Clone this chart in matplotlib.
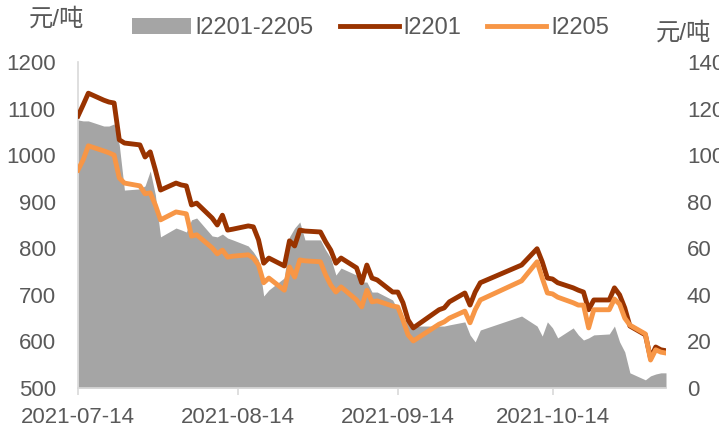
import matplotlib
matplotlib.use("Agg")
import matplotlib.pyplot as plt
import matplotlib.dates as mdates
import numpy as np
import pandas as pd

plt.rcParams['font.family'] = ['Liberation Sans', 'Noto Sans CJK SC', 'DejaVu Sans']

# trading days shown in the chart
dates = ['2021-07-14', '2021-07-15', '2021-07-16', '2021-07-19', '2021-07-20', '2021-07-21',
         '2021-07-22', '2021-07-23', '2021-07-26', '2021-07-27', '2021-07-28', '2021-07-29',
         '2021-07-30', '2021-08-02', '2021-08-03', '2021-08-04', '2021-08-05', '2021-08-06',
         '2021-08-09', '2021-08-10', '2021-08-11', '2021-08-12', '2021-08-13', '2021-08-16',
         '2021-08-17', '2021-08-18', '2021-08-19', '2021-08-20', '2021-08-23', '2021-08-24',
         '2021-08-25', '2021-08-26', '2021-08-27', '2021-08-30', '2021-08-31', '2021-09-01',
         '2021-09-02', '2021-09-03', '2021-09-06', '2021-09-07', '2021-09-08', '2021-09-09',
         '2021-09-10', '2021-09-13', '2021-09-14', '2021-09-15', '2021-09-16', '2021-09-17',
         '2021-09-22', '2021-09-23', '2021-09-24', '2021-09-27', '2021-09-28', '2021-09-29',
         '2021-09-30', '2021-10-08', '2021-10-11', '2021-10-12', '2021-10-13', '2021-10-14',
         '2021-10-15', '2021-10-18', '2021-10-19', '2021-10-20', '2021-10-21', '2021-10-22',
         '2021-10-25', '2021-10-26', '2021-10-27', '2021-10-28', '2021-10-29', '2021-11-01',
         '2021-11-02', '2021-11-03', '2021-11-04', '2021-11-05']

# I2201 (left axis, yuan/ton)
i2201 = [1084, 1108, 1133, 1118, 1114, 1112, 1033, 1026, 1022, 996, 1007, 968,
         925, 940, 936, 934, 893, 897, 865, 850, 871, 839, 841, 848,
         846, 818, 768, 779, 762, 816, 805, 839, 837, 835, 814, 796,
         768, 779, 758, 726, 764, 736, 732, 706, 706, 683, 646, 629,
         668, 672, 685, 704, 678, 706, 726, 764, 799, 771, 736, 734,
         726, 715, 710, 706, 668, 689, 689, 715, 700, 672, 633, 614,
         564, 588, 582, 580]

# I2205 (left axis, yuan/ton)
i2205 = [968, 990, 1020, 1009, 1005, 1000, 951, 940, 934, 917, 919, 893,
         861, 878, 876, 874, 826, 829, 801, 788, 796, 781, 783, 786,
         779, 764, 726, 736, 710, 760, 738, 775, 773, 771, 743, 721,
         706, 717, 689, 674, 710, 685, 687, 676, 674, 646, 614, 601,
         637, 642, 650, 665, 640, 668, 689, 730, 771, 736, 704, 702,
         695, 683, 678, 678, 629, 668, 668, 691, 680, 650, 635, 616,
         560, 582, 577, 575]

# I2201-2205 spread (right axis, yuan/ton)
spread = [115.1, 114.7, 114.7, 112.5, 112.5, 113.4, 104.4, 85.0, 85.5, 86.8, 93.2, 82.9,
          64.9, 68.7, 67.9, 67.0, 72.2, 73.0, 65.3, 64.9, 66.1, 64.4, 63.6, 61.0,
          58.4, 55.0, 39.5, 42.1, 47.3, 64.9, 68.7, 71.3, 63.6, 63.6, 59.3, 55.8,
          48.5, 51.5, 48.5, 45.5, 45.5, 41.2, 41.2, 37.8, 33.5, 30.1, 28.4, 26.6,
          26.6, 26.6, 27.1, 28.4, 22.8, 19.8, 24.9, 30.9, 26.6, 22.3, 28.4, 25.8,
          21.5, 25.8, 22.8, 20.6, 21.5, 22.8, 23.2, 26.6, 19.8, 15.5, 6.5, 3.5,
          5.2, 6.0, 6.5, 6.5]

left_ticks = [500, 600, 700, 800, 900, 1000, 1100, 1200]
right_ticks = [0, 20, 40, 60, 80, 100, 120, 140]
x_ticks = ['2021-07-14', '2021-08-14', '2021-09-14', '2021-10-14']

d = pd.to_datetime(dates)
txt = '#595959'
fs = 16

fig = plt.figure(figsize=(7.19, 4.32), dpi=100)
ax = fig.add_axes([0.1085, 0.1019, 0.8178, 0.7546])
ax2 = ax.twinx()

# gray spread area on the right scale
ax.fill_between(d, 0, spread, color='#A5A5A5', linewidth=0, label='l2201-2205')
ax.set_ylim(0, 140)
ax.set_yticks(right_ticks)
ax.yaxis.tick_right()

# price lines on the left scale
ax2.plot(d, i2201, color='#993300', lw=3.5, solid_joinstyle='round', label='l2201')
ax2.plot(d, i2205, color='#F79646', lw=3.5, solid_joinstyle='round', label='l2205')
ax2.set_ylim(500, 1200)
ax2.set_yticks(left_ticks)
ax2.yaxis.tick_left()

ax.set_xlim(d[0], d[-1])
ax.set_xticks(pd.to_datetime(x_ticks))
ax.xaxis.set_major_formatter(mdates.DateFormatter('%Y-%m-%d'))

for a in (ax, ax2):
    for s in a.spines.values():
        s.set_visible(False)
    a.tick_params(axis='y', length=0, labelsize=fs, labelcolor=txt)
ax2.tick_params(axis='y', pad=16)
ax.tick_params(axis='y', pad=15)
ax.spines['bottom'].set_visible(True)
ax.spines['bottom'].set_color('#D9D9D9')
ax.spines['bottom'].set_linewidth(1.2)
ax.spines['left'].set_visible(True)
ax.spines['left'].set_color('#D9D9D9')
ax.spines['left'].set_linewidth(1.2)
ax.tick_params(axis='x', length=5, color='#D9D9D9', width=1.2, labelsize=fs,
               labelcolor=txt, pad=9)

fig.text(0.040, 0.955, '元/吨', fontsize=17.5, color=txt, ha='left', va='center')
fig.text(0.912, 0.922, '元/吨', fontsize=17.5, color=txt, ha='left', va='center')

h1, l1 = ax.get_legend_handles_labels()
h2, l2 = ax2.get_legend_handles_labels()
fig.legend(h1 + h2, l1 + l2, loc='center', bbox_to_anchor=(0.515, 0.935), ncol=3,
           frameon=False, fontsize=17, labelcolor=txt, handlelength=2.5,
           handletextpad=0.2, columnspacing=1.1, borderaxespad=0)

fig.savefig('out.png', dpi=100)
